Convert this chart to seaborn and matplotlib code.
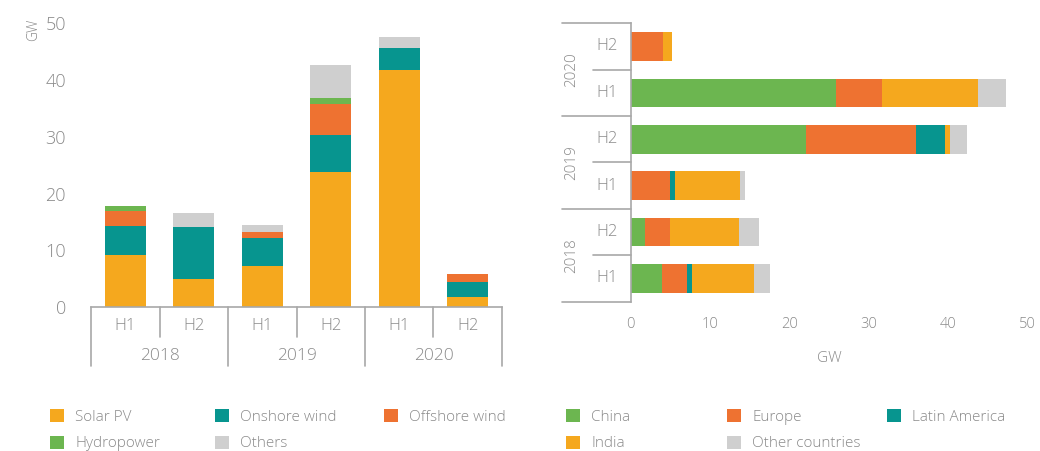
import numpy as np
import pandas as pd
import matplotlib
matplotlib.use("Agg")
import matplotlib.pyplot as plt
import matplotlib.transforms as mtransforms
import matplotlib.patches as mpatches
import seaborn as sns

# ---------------- data ----------------
years = ["2018", "2019", "2020"]
halves = ["H1", "H2"]
periods = ["2018 H1", "2018 H2", "2019 H1", "2019 H2", "2020 H1", "2020 H2"]

# Left chart: by technology (GW)
solar_pv = [9.1, 4.9, 7.2, 23.8, 41.8, 1.7]
onshore_wind = [5.1, 9.2, 5.0, 6.5, 3.8, 2.7]
offshore_wind = [2.7, 0.0, 1.0, 5.5, 0.0, 1.5]
hydropower = [0.9, 0.0, 0.0, 1.0, 0.0, 0.0]
others = [0.0, 2.4, 1.2, 5.8, 2.0, 0.0]

# Right chart: by region (GW)
china = [3.9, 1.8, 0.0, 22.1, 25.9, 0.0]
europe = [3.2, 3.1, 4.9, 13.8, 5.7, 4.1]
latin_america = [0.6, 0.0, 0.7, 3.7, 0.0, 0.0]
india = [7.8, 8.7, 8.2, 0.6, 12.2, 1.1]
other_countries = [2.1, 2.6, 0.6, 2.2, 3.5, 0.0]

SOLAR = "#F5A81E"
TEAL = "#07958F"
ORANGE = "#EE7231"
GREEN = "#6CB650"
GREY = "#CFCFCF"
TXT = "#8A8A8A"
LINE = "#A8A8A8"

sns.set_theme(style="white")
plt.rcParams["font.family"] = ["Open Sans", "DejaVu Sans"]
plt.rcParams["font.weight"] = "light"
plt.rcParams["axes.labelweight"] = "light"

fig = plt.figure(figsize=(10.4, 4.51), dpi=100)
W, H = 1040, 451

def ax_rect(x0, x1, ytop, ybot):
    return [x0 / W, 1 - ybot / H, (x1 - x0) / W, (ybot - ytop) / H]

# ---------------- left chart ----------------
axL = fig.add_axes(ax_rect(91, 502, 23.3, 307))
tech_series = [
    ("Solar PV", solar_pv, SOLAR),
    ("Onshore wind", onshore_wind, TEAL),
    ("Offshore wind", offshore_wind, ORANGE),
    ("Hydropower", hydropower, GREEN),
    ("Others", others, GREY),
]
bottom = np.zeros(len(periods))
for name, vals, col in tech_series:
    sns.barplot(x=periods, y=vals, order=periods, color=col, saturation=1,
                width=0.6, bottom=bottom, linewidth=0, ax=axL)
    bottom = bottom + np.array(vals)

axL.set_xlim(-0.5, 5.5)
axL.set_ylim(0, 50)
axL.set_yticks([0, 10, 20, 30, 40, 50])
axL.tick_params(axis="y", length=0, pad=18, labelsize=13, labelcolor=TXT)
axL.set_xticks([])
axL.set_xlabel("")
axL.set_ylabel("")
for s in ["left", "right", "top"]:
    axL.spines[s].set_visible(False)
axL.spines["bottom"].set_color(LINE)
axL.spines["bottom"].set_linewidth(1.2)

trL = mtransforms.blended_transform_factory(axL.transData, axL.transAxes)
ph = 283.7
for i, p in enumerate(periods):
    axL.text(i, -19 / ph, p.split()[1], transform=trL, ha="center", va="center",
             fontsize=12, color=TXT)
for j, y in enumerate(years):
    axL.text(2 * j + 0.5, -49 / ph, y, transform=trL, ha="center", va="center",
             fontsize=12.5, color=TXT)
for xb in [-0.5, 1.5, 3.5, 5.5]:
    axL.plot([xb, xb], [0, -59 / ph], transform=trL, color=LINE, lw=1.2, clip_on=False)
for xb in [0.5, 2.5, 4.5]:
    axL.plot([xb, xb], [0, -30 / ph], transform=trL, color=LINE, lw=1.2, clip_on=False)

fig.text(34 / W, 1 - 30 / H, "GW", rotation=90, ha="center", va="center",
         fontsize=10, color=TXT)

# ---------------- right chart ----------------
axR = fig.add_axes(ax_rect(630.7, 1027.7, 23.3, 301.7))
order_r = periods[::-1]
reg_series = [
    ("China", china, GREEN),
    ("Europe", europe, ORANGE),
    ("Latin America", latin_america, TEAL),
    ("India", india, SOLAR),
    ("Other countries", other_countries, GREY),
]
left = np.zeros(len(periods))
for name, vals, col in reg_series:
    v = np.array(vals)[::-1]
    sns.barplot(y=order_r, x=v, order=order_r, orient="h", color=col, saturation=1,
                width=0.62, left=left, linewidth=0, ax=axR)
    left = left + v

axR.set_xlim(0, 50)
axR.set_ylim(5.5, -0.5)
axR.set_xticks([0, 10, 20, 30, 40, 50])
axR.tick_params(axis="x", length=0, pad=11, labelsize=10.5, labelcolor=TXT)
axR.set_yticks([])
axR.set_ylabel("")
axR.set_xlabel("GW", fontsize=11, color=TXT, labelpad=14, fontweight="light")
for s in ["right", "top", "bottom"]:
    axR.spines[s].set_visible(False)
axR.spines["left"].set_color(LINE)
axR.spines["left"].set_linewidth(1.2)

trR = mtransforms.blended_transform_factory(axR.transAxes, axR.transData)
pw = 397.0
for i, p in enumerate(order_r):
    axR.text(-24 / pw, i, p.split()[1], transform=trR, ha="center", va="center",
             fontsize=12, color=TXT)
for j, y in enumerate(years[::-1]):
    axR.text(-59 / pw, 2 * j + 0.5, y, transform=trR, ha="center", va="center",
             rotation=90, fontsize=11, color=TXT)
for yb in [-0.5, 1.5, 3.5, 5.5]:
    axR.plot([-69 / pw, 0], [yb, yb], transform=trR, color=LINE, lw=1.2, clip_on=False)
for yb in [0.5, 2.5, 4.5]:
    axR.plot([-38 / pw, 0], [yb, yb], transform=trR, color=LINE, lw=1.2, clip_on=False)

# ---------------- legends ----------------
def col_legend(items, x, y):
    handles = [mpatches.Patch(color=c, lw=0) for _, c in items]
    labels = [n for n, _ in items]
    fig.legend(handles, labels, loc="upper left", bbox_to_anchor=(x / W, 1 - y / H),
               frameon=False, fontsize=11, handlelength=0.92, handleheight=0.92,
               handletextpad=0.72, labelspacing=0.72, borderpad=0, borderaxespad=0,
               labelcolor=TXT)

col_legend([("Solar PV", SOLAR), ("Hydropower", GREEN)], 50, 409)
col_legend([("Onshore wind", TEAL), ("Others", GREY)], 215, 409)
col_legend([("Offshore wind", ORANGE)], 384, 409)
col_legend([("China", GREEN), ("India", SOLAR)], 566, 409)
col_legend([("Europe", ORANGE), ("Other countries", GREY)], 727, 409)
col_legend([("Latin America", TEAL)], 887, 409)

fig.savefig("out.png", dpi=100)
